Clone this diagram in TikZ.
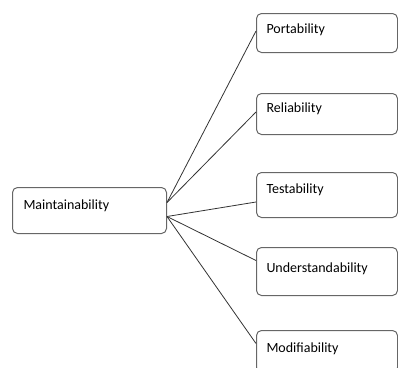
\documentclass[tikz,border=0pt]{standalone}
\usepackage{fontspec}
\setmainfont{Carlito}

\begin{document}
\begin{tikzpicture}[x=1pt, y=-1pt, font=\fontsize{14}{16}\selectfont,
    box/.style={draw=black!60, line width=1pt, rounded corners=5pt, anchor=north west,
        align=left, inner xsep=10pt, inner ysep=0pt, text width=121pt, text height=20pt, text depth=#1}]
    \useasboundingbox (0,0) rectangle (398,367);

    % 中心のノード
    \node[box=24pt, inner xsep=11pt, text width=132pt, text height=22pt] (M) at (12,187) {Maintainability};

    % 右側のノード
    \node[box=19pt] (P) at (256,13) {Portability};
    \node[box=22pt, text height=19pt] (R) at (256,93) {Reliability};
    \node[box=24pt, text height=21pt] (T) at (256,172) {Testability};
    \node[box=23pt, text height=25pt] (U) at (256,247) {Understandability};
    \node[box=20pt, text height=22pt] (D) at (256,330) {Modifiability};

    % 線を描画
    \draw[line width=0.8pt, black!80] ([yshift=8pt]M.east) -- ([yshift=2pt]P.west);
    \draw[line width=0.8pt, black!80] ([yshift=8pt]M.east) -- ([yshift=2pt]R.west);
    \draw[line width=0.8pt, black!80] ([yshift=-6pt]M.east) -- ([yshift=-7pt]T.west);
    \draw[line width=0.8pt, black!80] ([yshift=-6pt]M.east) -- ([yshift=11pt]U.west);
    \draw[line width=0.8pt, black!80] ([yshift=-6pt]M.east) -- ([yshift=8pt]D.west);
\end{tikzpicture}
\end{document}
